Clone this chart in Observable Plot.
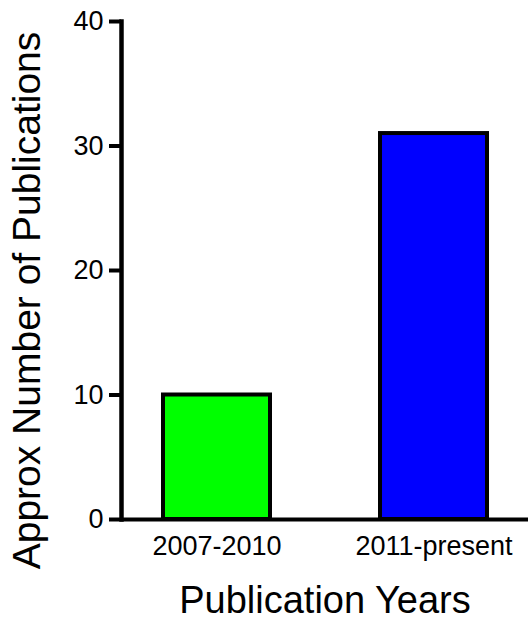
<!DOCTYPE html>
<html>
<head>
<meta charset="utf-8">
<script src="https://cdn.jsdelivr.net/npm/d3@7"></script>
<script src="https://cdn.jsdelivr.net/npm/@observablehq/plot@0.6"></script>
<style>
  html, body { margin: 0; padding: 0; background: #fff; }
  #chart svg { display: block; }
</style>
</head>
<body>
<div id="chart"></div>
<script>
const categories = ["2007-2010", "2011-present"];
const counts = [10, 31];
const barColors = ["#00ff00", "#0000ff"];
const yTicks = [0, 10, 20, 30, 40];
const xTitle = "Publication Years";
const yTitle = "Approx Number of Publications";

const data = categories.map((c, i) => ({cat: c, n: counts[i]}));

const chart = Plot.plot({
  width: 530,
  height: 620,
  marginLeft: 121,
  marginRight: 2,
  marginTop: 21,
  marginBottom: 101,
  style: {fontFamily: "'Liberation Sans', Arial, sans-serif", color: "#000", background: "#fff"},
  x: {domain: categories, paddingInner: 0.507, paddingOuter: 0.191},
  y: {domain: [0, 40]},
  color: {domain: categories, range: barColors},
  marks: [
    Plot.barY(data, {x: "cat", y: "n", fill: "cat", stroke: "#000", strokeWidth: 4}),
    Plot.ruleY([0], {stroke: "#000", strokeWidth: 4}),
    Plot.frame({anchor: "left", stroke: "#000", strokeWidth: 4.5}),
    Plot.axisY(yTicks, {tickSize: 12, tickPadding: 6, fontSize: 27, strokeWidth: 4, label: null, tickFormat: d => String(d)}),
    Plot.axisX({tickSize: 0, tickPadding: 16, fontSize: 27, label: null}),
    Plot.text([xTitle], {frameAnchor: "bottom", dy: 93, lineAnchor: "bottom", fontSize: 38, textAnchor: "middle"}),
    Plot.text([yTitle], {frameAnchor: "left", dx: -82, dy: 30, rotate: -90, lineAnchor: "bottom", fontSize: 39, textAnchor: "middle"})
  ]
});
document.getElementById("chart").appendChild(chart);
</script>
</body>
</html>
